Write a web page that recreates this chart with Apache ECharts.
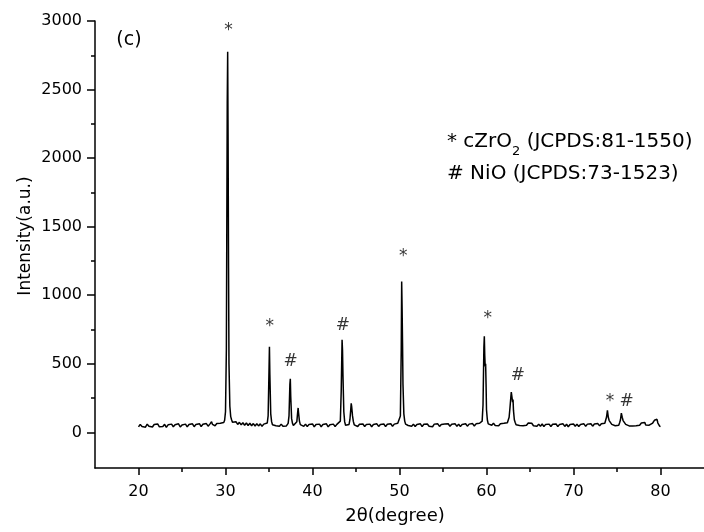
<!DOCTYPE html>
<html><head><meta charset="utf-8">
<script src="https://cdn.jsdelivr.net/npm/echarts@6/dist/echarts.min.js"></script>
<style>html,body{margin:0;padding:0;background:#fff}#c{width:704px;height:532px}</style>
</head><body><div id="c"></div>
<script>
// XRD pattern: [2theta, intensity]
const pattern = [
[20.0,40],[20.2,58],[20.4,42],[20.6,55],[20.8,38],[21.0,60],[21.2,44],[21.4,56],[21.6,39],[21.8,57],
[22.0,45],[22.2,61],[22.4,40],[22.6,54],[22.8,43],[23.0,59],[23.2,37],[23.4,55],[23.6,46],[23.8,60],
[24.0,41],[24.2,56],[24.4,44],[24.6,62],[24.8,39],[25.0,54],[25.2,45],[25.4,60],[25.6,40],[25.8,57],
[26.0,44],[26.2,62],[26.4,41],[26.6,58],[26.8,46],[27.0,63],[27.2,42],[27.4,59],[27.6,47],[27.8,64],
[28.0,45],[28.2,60],[28.4,78],[28.5,58],[28.6,66],[28.8,48],[29.0,64],[29.2,50],[29.4,67],[29.6,55],
[29.8,72],[29.9,88],[30.0,150],[30.1,600],[30.15,1500],[30.2,2400],[30.25,2775],[30.3,2100],[30.35,1200],[30.4,500],
[30.5,190],[30.6,115],[30.7,92],[30.8,74],[31.0,62],[31.2,78],[31.4,58],[31.6,73],[31.8,55],[32.0,70],
[32.2,52],[32.4,68],[32.6,50],[32.8,66],[33.0,48],[33.2,64],[33.4,46],[33.6,63],[33.8,47],[34.0,62],
[34.2,44],[34.4,60],[34.6,50],[34.8,68],[34.9,120],[35.0,450],[35.05,625],[35.1,420],[35.2,135],[35.3,78],
[35.4,56],[35.6,66],[35.8,48],[36.0,62],[36.2,45],[36.4,60],[36.6,44],[36.8,58],[37.0,47],[37.2,66],
[37.3,120],[37.4,350],[37.45,390],[37.5,260],[37.6,100],[37.7,66],[37.8,50],[38.0,62],[38.2,78],[38.3,150],
[38.35,178],[38.4,140],[38.5,82],[38.6,56],[38.8,62],[39.0,44],[39.2,60],[39.4,42],[39.6,58],[39.8,45],
[40.0,61],[40.2,40],[40.4,57],[40.6,43],[40.8,60],[41.0,41],[41.2,58],[41.4,46],[41.6,62],[41.8,40],
[42.0,56],[42.2,44],[42.4,60],[42.6,42],[42.8,58],[43.0,50],[43.2,82],[43.3,300],[43.4,675],[43.45,600],
[43.5,420],[43.6,150],[43.7,76],[43.8,52],[44.0,64],[44.2,58],[44.3,92],[44.4,170],[44.45,212],[44.5,190],
[44.6,120],[44.7,78],[44.8,55],[45.0,62],[45.2,43],[45.4,59],[45.6,45],[45.8,61],[46.0,42],[46.2,58],
[46.4,44],[46.6,60],[46.8,41],[47.0,57],[47.2,45],[47.4,62],[47.6,43],[47.8,58],[48.0,46],[48.2,61],
[48.4,42],[48.6,59],[48.8,47],[49.0,63],[49.2,44],[49.4,60],[49.6,49],[49.8,66],[50.0,62],[50.1,120],
[50.2,600],[50.25,1100],[50.3,900],[50.35,650],[50.4,350],[50.5,135],[50.6,82],[50.7,60],[50.8,68],[51.0,50],
[51.2,63],[51.4,45],[51.6,60],[51.8,43],[52.0,58],[52.2,46],[52.4,62],[52.6,42],[52.8,59],[53.0,45],
[53.2,61],[53.4,44],[53.6,57],[53.8,41],[54.0,60],[54.2,47],[54.4,62],[54.6,43],[54.8,58],[55.0,45],
[55.2,61],[55.4,48],[55.6,63],[55.8,44],[56.0,59],[56.2,46],[56.4,62],[56.6,44],[56.8,60],[57.0,42],
[57.2,58],[57.4,47],[57.6,63],[57.8,45],[58.0,60],[58.2,48],[58.4,64],[58.6,46],[58.8,62],[59.0,50],
[59.2,66],[59.4,58],[59.5,82],[59.6,200],[59.7,620],[59.75,700],[59.8,560],[59.85,480],[59.9,500],[59.95,350],
[60.0,165],[60.1,90],[60.2,62],[60.4,70],[60.6,52],[60.8,67],[61.0,50],[61.2,64],[61.4,48],[61.6,63],
[61.8,52],[62.0,66],[62.2,55],[62.4,70],[62.5,78],[62.6,110],[62.7,180],[62.8,260],[62.85,293],[62.9,270],
[63.0,220],[63.05,240],[63.1,160],[63.2,92],[63.3,72],[63.4,56],[63.6,66],[63.8,50],[64.0,63],[64.2,48],
[64.4,62],[64.6,52],[64.8,68],[64.9,74],[65.0,60],[65.2,66],[65.4,48],[65.6,62],[65.8,44],[66.0,60],
[66.2,45],[66.4,61],[66.6,42],[66.8,58],[67.0,44],[67.2,60],[67.4,43],[67.6,59],[67.8,45],[68.0,61],
[68.2,42],[68.4,58],[68.6,46],[68.8,62],[69.0,43],[69.2,59],[69.4,41],[69.6,57],[69.8,46],[70.0,61],
[70.2,44],[70.4,60],[70.6,43],[70.8,58],[71.0,47],[71.2,62],[71.4,44],[71.6,60],[71.8,46],[72.0,63],
[72.2,45],[72.4,61],[72.6,48],[72.8,64],[73.0,47],[73.2,63],[73.4,50],[73.6,66],[73.7,78],[73.8,112],
[73.9,160],[73.95,150],[74.0,110],[74.1,86],[74.2,74],[74.4,58],[74.6,66],[74.8,48],[75.0,62],[75.2,52],
[75.3,70],[75.4,92],[75.5,140],[75.6,110],[75.7,86],[75.8,72],[76.0,58],[76.2,64],[76.4,47],[76.6,60],
[76.8,46],[77.0,59],[77.2,48],[77.4,62],[77.6,52],[77.8,68],[77.9,82],[78.0,58],[78.2,72],[78.3,54],
[78.5,66],[78.7,52],[78.9,66],[79.1,68],[79.3,88],[79.4,100],[79.5,84],[79.6,95],[79.7,68],[79.8,60],
[79.9,46],[80.0,42]
];

// Phase markers above peaks
const markerX   = [30.35, 35.1, 37.48, 43.5, 50.44, 60.14, 63.6, 74.2, 76.1];
const markerY   = [2927, 775, 513, 779, 1282, 833, 413, 221, 226];
const markerSym = ['*', '*', '#', '#', '*', '*', '#', '*', '#'];

const xMajorTicks = [20, 30, 40, 50, 60, 70, 80];
const xMinorTicks = [25, 35, 45, 55, 65, 75];
const yMajorTicks = [0, 500, 1000, 1500, 2000, 2500, 3000];
const yMinorTicks = [250, 750, 1250, 1750, 2250, 2750];

const legendLine1a = '* cZrO';
const legendSub = '2';
const legendLine1b = ' (JCPDS:81-1550)';
const legendLine2 = '# NiO (JCPDS:73-1523)';
const panelLabel = '(c)';

const FONT = 'DejaVu Sans';
const BLACK = '#000';

const ctx = document.createElement('canvas').getContext('2d');
ctx.font = '20px "' + FONT + '"';
const wA = ctx.measureText(legendLine1a).width;
ctx.font = '13px "' + FONT + '"';
const wS = ctx.measureText(legendSub).width;

const legX = 447;
const chart = echarts.init(document.getElementById('c'), null, {renderer: 'canvas'});

const axisLineStyle = {color: BLACK, width: 1.5};
const plain = v => String(v);
const option = {
  animation: false,
  backgroundColor: '#fff',
  grid: {left: 95, right: -6, top: 21, bottom: 64, containLabel: false},
  xAxis: [{
    type: 'value', min: 15, max: 85, position: 'bottom',
    axisLine: {show: true, onZero: false, lineStyle: axisLineStyle},
    axisTick: {show: true, inside: false, length: 7, customValues: xMajorTicks, lineStyle: axisLineStyle},
    axisLabel: {show: true, customValues: xMajorTicks, formatter: plain, color: BLACK, fontFamily: FONT, fontSize: 16, margin: 16},
    splitLine: {show: false},
    name: '2θ(degree)', nameLocation: 'middle', nameGap: 39, nameMoveOverlap: false,
    nameTextStyle: {color: BLACK, fontFamily: FONT, fontSize: 18, padding: [0, 9, 0, 0]}
  }, {
    type: 'value', min: 15, max: 85, position: 'bottom',
    axisLine: {show: false, onZero: false},
    axisTick: {show: true, inside: false, length: 4, customValues: xMinorTicks, lineStyle: axisLineStyle},
    axisLabel: {show: false}, splitLine: {show: false}
  }],
  yAxis: [{
    type: 'value', min: -260, max: 3000, position: 'left',
    axisLine: {show: true, onZero: false, lineStyle: axisLineStyle},
    axisTick: {show: true, inside: false, length: 8, customValues: yMajorTicks, lineStyle: axisLineStyle},
    axisLabel: {show: true, customValues: yMajorTicks, formatter: plain, color: BLACK, fontFamily: FONT, fontSize: 16, margin: 13},
    splitLine: {show: false},
    name: 'Intensity(a.u.)', nameLocation: 'middle', nameGap: 61, nameMoveOverlap: false,
    nameTextStyle: {color: BLACK, fontFamily: FONT, fontSize: 17, padding: [0, 0, 0, 17]}
  }, {
    type: 'value', min: -260, max: 3000, position: 'left',
    axisLine: {show: false, onZero: false},
    axisTick: {show: true, inside: false, length: 4, customValues: yMinorTicks, lineStyle: axisLineStyle},
    axisLabel: {show: false}, splitLine: {show: false}
  }],
  series: [{
    type: 'line', xAxisIndex: 0, yAxisIndex: 0,
    data: pattern, showSymbol: false, symbol: 'none', smooth: false,
    lineStyle: {color: BLACK, width: 1.5}, silent: true
  }, {
    type: 'scatter', xAxisIndex: 0, yAxisIndex: 0,
    data: markerX.map((x, i) => [x, markerY[i], markerSym[i]]),
    symbol: 'circle', symbolSize: 1, itemStyle: {color: 'rgba(0,0,0,0)'},
    silent: true,
    label: {show: true, position: 'inside', formatter: p => p.value[2],
      color: BLACK, fontFamily: FONT, fontSize: 17}
  }],
  graphic: [
    {type: 'text', x: 129, y: 40, silent: true,
     style: {text: panelLabel, fill: BLACK, font: '19px "' + FONT + '"', align: 'center', verticalAlign: 'middle'}},
    {type: 'text', x: legX, y: 142, silent: true,
     style: {text: legendLine1a, fill: BLACK, font: '20px "' + FONT + '"', align: 'left', verticalAlign: 'middle'}},
    {type: 'text', x: legX + wA, y: 152, silent: true,
     style: {text: legendSub, fill: BLACK, font: '13px "' + FONT + '"', align: 'left', verticalAlign: 'middle'}},
    {type: 'text', x: legX + wA + wS, y: 142, silent: true,
     style: {text: legendLine1b, fill: BLACK, font: '20px "' + FONT + '"', align: 'left', verticalAlign: 'middle'}},
    {type: 'text', x: legX, y: 174, silent: true,
     style: {text: legendLine2, fill: BLACK, font: '20px "' + FONT + '"', align: 'left', verticalAlign: 'middle'}}
  ]
};
chart.setOption(option);
</script>
</body></html>
